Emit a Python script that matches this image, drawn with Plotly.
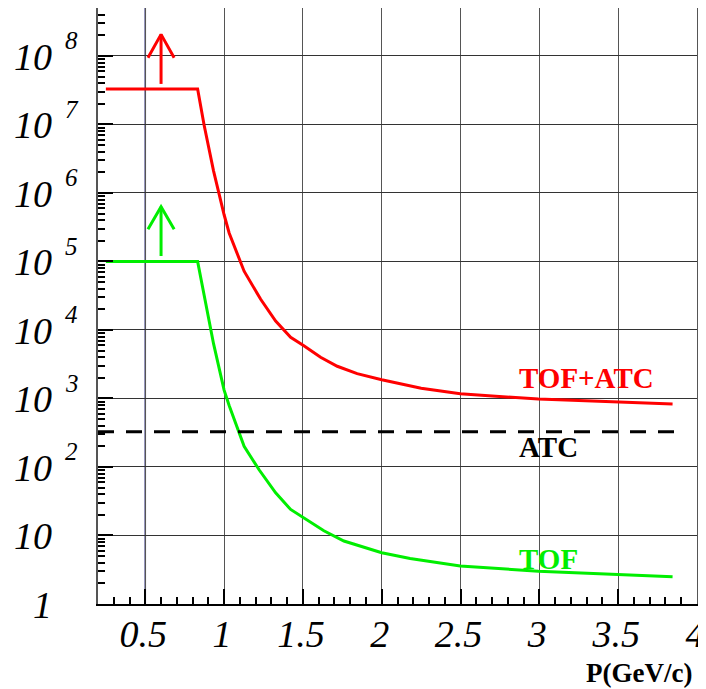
import plotly.graph_objects as go

# ---------------- data ----------------
p_tofatc = [0.25, 0.832, 0.873, 0.933, 1.0, 1.032, 1.127, 1.232, 1.327, 1.422, 1.506,
            1.612, 1.718, 1.844, 2.0, 2.25, 2.498, 2.75, 2.994, 3.25, 3.49, 3.845]
rej_tofatc = [3.3e7, 3.3e7, 9.8e6, 2.1e6, 4.8e5, 2.6e5, 7.2e4, 2.8e4, 1.35e4, 7.8e3, 5.9e3,
              4.0e3, 2.95e3, 2.3e3, 1.88e3, 1.41e3, 1.17e3, 1.07e3, 980, 930, 890, 830]

p_tof = [0.25, 0.832, 0.933, 1.0, 1.032, 1.127, 1.222, 1.327, 1.422, 1.506, 1.633,
         1.76, 2.0, 2.18, 2.498, 2.994, 3.49, 3.845]
rej_tof = [1.0e5, 1.0e5, 6.3e3, 1.32e3, 790, 200, 91, 42, 24, 18, 11.7,
           8.3, 5.6, 4.6, 3.6, 3.0, 2.7, 2.5]

p_atc = [0.2, 3.9]
rej_atc = [328, 328]

# lower-limit arrows: x, tail, tip, wing level
arrow_x = 0.6
arrow_half = 0.083
red_arrow = [3.9e7, 2.06e8, 9.4e7]
green_arrow = [1.2e5, 6.3e5, 2.95e5]

x_ticks = [0.5, 1, 1.5, 2, 2.5, 3, 3.5, 4]
x_ticktext = ["0.5", "1", "1.5", "2", "2.5", "3", "3.5", "4"]
y_decades = [0, 1, 2, 3, 4, 5, 6, 7, 8]
y_base = ["1", "10", "10", "10", "10", "10", "10", "10", "10"]
y_exp = ["", "", "2", "3", "4", "5", "6", "7", "8"]

RED = "#ff0000"
GREEN = "#00ee00"
SERIF = "Liberation Serif, Times New Roman, serif"

fig = go.Figure()

fig.add_trace(go.Scatter(x=p_tofatc, y=rej_tofatc, mode="lines",
                         line=dict(color=RED, width=3), showlegend=False))
fig.add_trace(go.Scatter(x=p_tof, y=rej_tof, mode="lines",
                         line=dict(color=GREEN, width=3), showlegend=False))
fig.add_trace(go.Scatter(x=p_atc, y=rej_atc, mode="lines",
                         line=dict(color="black", width=3, dash="16px,12px"), showlegend=False))


def arrow(vals, color):
    tail, tip, wing = vals
    xs = [arrow_x, arrow_x, None, arrow_x - arrow_half, arrow_x, arrow_x + arrow_half]
    ys = [tail, tip, None, wing, tip, wing]
    fig.add_trace(go.Scatter(x=xs, y=ys, mode="lines", line=dict(color=color, width=3),
                             showlegend=False, connectgaps=False))


arrow(red_arrow, RED)
arrow(green_arrow, GREEN)

# navy vertical line at p = 0.5
fig.add_shape(type="line", x0=0.5, x1=0.5, y0=0, y1=1, xref="x", yref="paper",
              line=dict(color="#1c1c70", width=1.5), layer="between")

# curve labels
labels = [("TOF+ATC", RED, 3.295), ("ATC", "black", 2.295), ("TOF", GREEN, 0.656)]
for txt, col, ly in labels:
    fig.add_annotation(x=2.859, y=ly, xref="x", yref="y", text="<b>" + txt + "</b>",
                       showarrow=False, xanchor="left", yanchor="middle",
                       font=dict(family=SERIF, size=29, color=col))

# y tick labels (10 with exponent)
for d, b, e in zip(y_decades, y_base, y_exp):
    fig.add_annotation(x=0, y=d, xref="paper", yref="y", text=b, showarrow=False,
                       xanchor="right", yanchor="middle", xshift=-44, yshift=-1,
                       font=dict(family=SERIF, size=38, color="black", style="italic"))
    if e:
        fig.add_annotation(x=0, y=d, xref="paper", yref="y", text=e, showarrow=False,
                           xanchor="left", yanchor="middle", xshift=-35, yshift=15,
                           font=dict(family=SERIF, size=25, color="black", style="italic"))

# x axis title
fig.add_annotation(x=1, y=-0.115, xref="paper", yref="paper", text="<b>P(GeV/c)</b>",
                   showarrow=False, xanchor="right", yanchor="middle", xshift=-3,
                   font=dict(family=SERIF, size=27, color="black"))

minor_y = [k * 10 ** n for n in range(0, 9) for k in range(2, 10)]

fig.update_layout(
    width=698, height=681,
    margin=dict(l=90, r=9, t=0, b=85),
    paper_bgcolor="white", plot_bgcolor="white",
    xaxis=dict(range=[0.2, 4.0], tickvals=x_ticks, ticktext=x_ticktext,
               ticks="inside", ticklen=15, tickwidth=1.5, tickcolor="black",
               ticklabeloverflow="allow", automargin=False,
               ticklabelstandoff=-5, ticklabelshift=-2,
               showline=True, linecolor="black", linewidth=2, mirror=True,
               showgrid=True, gridcolor="#555555", gridwidth=1, zeroline=False,
               tickfont=dict(family=SERIF, size=38, color="black", style="italic"),
               minor=dict(dtick=0.1, tick0=0.2, ticks="inside", ticklen=7,
                          tickcolor="black", tickwidth=1.5, showgrid=False)),
    yaxis=dict(type="log", range=[0, 8.699], tickvals=[10 ** d for d in y_decades],
               showticklabels=False,
               ticks="inside", ticklen=15, tickwidth=1.5, tickcolor="black",
               showline=True, linecolor="#555555", linewidth=2, mirror=True,
               showgrid=True, gridcolor="#333333", gridwidth=1, zeroline=False,
               minor=dict(tickvals=minor_y, ticks="inside", ticklen=7,
                          tickcolor="black", tickwidth=1.5, showgrid=False)),
)

fig.write_html("out.html")
